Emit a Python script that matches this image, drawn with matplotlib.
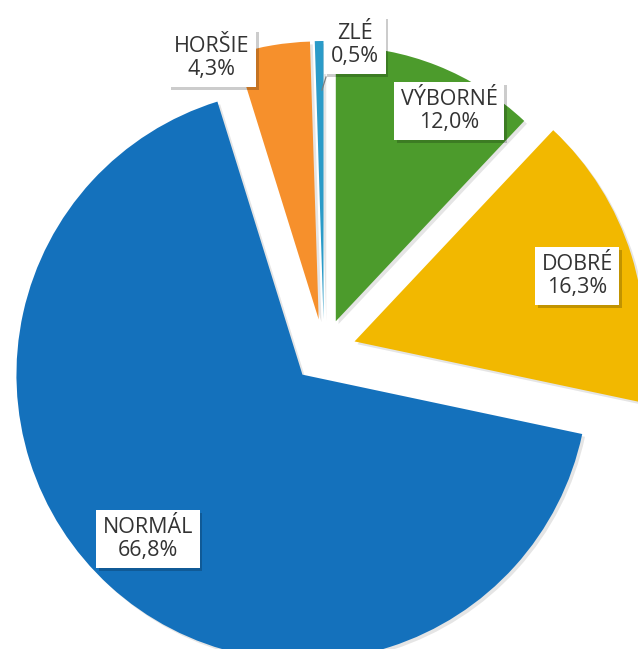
import matplotlib
matplotlib.use("Agg")
import matplotlib.pyplot as plt
import matplotlib.patheffects as pe

categories = ["VÝBORNÉ", "DOBRÉ", "NORMÁL", "HORŠIE", "ZLÉ"]
values = [12.0, 16.3, 66.8, 4.3, 0.5]
pct_labels = ["12,0%", "16,3%", "66,8%", "4,3%", "0,5%"]
colors = ["#4C9B2C", "#F2B800", "#1471BC", "#F6902C", "#2B9BC8"]

# label box centres (image pixel coords, y downwards)
label_pos = [(449, 111), (577, 276), (148, 539), (212, 58), (355, 45)]
# per-slice drawn radius (px) to mimic the slightly distorted source
slice_radius = [275, 290, 286, 278, 278]

W, H = 638, 649
fig = plt.figure(figsize=(W / 100, H / 100), dpi=100)
ax = fig.add_axes([0, 0, 1, 1])

cx, cy = 324, H - 351
R = 282
explode = [32] * len(values)   # pixels (data units)
wedges, _ = ax.pie(values, colors=colors, startangle=90, counterclock=False,
                   center=(cx, cy), radius=R, explode=explode,
                   wedgeprops=dict(linewidth=0))
for w, r in zip(wedges, slice_radius):
    w.set_radius(r)
    w.set_path_effects([pe.SimplePatchShadow(offset=(2, -2), alpha=0.10, shadow_rgbFace="black"),
                        pe.Normal()])

ax.set_xlim(0, W)
ax.set_ylim(0, H)
ax.set_aspect("equal")
ax.axis("off")

# leader line for the tiny slice
ax.plot([326, 322], [H - 77, H - 90], color="#7f7f7f", lw=0.9)

for cat, pct, (x, y) in zip(categories, pct_labels, label_pos):
    t = ax.text(x, H - y, f"{cat}\n{pct}", ha="center", va="center",
                fontsize=15.5, family=["Open Sans", "DejaVu Sans"], color="#333333",
                linespacing=1.18,
                bbox=dict(boxstyle="square,pad=0.3", fc="white", ec="none"))
    t.get_bbox_patch().set_path_effects([
        pe.SimplePatchShadow(offset=(2, -2), alpha=0.2, shadow_rgbFace="black"),
        pe.Normal()])

fig.savefig("out.png", dpi=100)
